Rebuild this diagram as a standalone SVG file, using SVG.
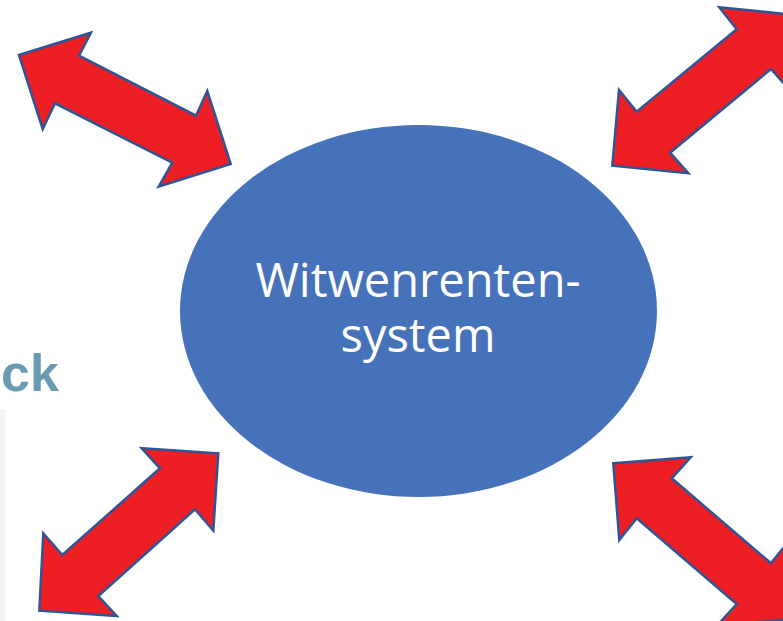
<svg xmlns="http://www.w3.org/2000/svg" width="783" height="621" viewBox="0 0 783 621">
<style>
.arrow{fill:#ED1F24;stroke:#2F5597;stroke-width:2.5;stroke-linejoin:miter}
.label{font-family:"Open Sans","Noto Sans",sans-serif;font-size:47px;fill:#FFFFFF;text-anchor:middle}
.ck{font-family:"Liberation Sans",Arial,sans-serif;font-weight:bold;font-size:52px;fill:#6A9BB0}
</style>
<rect x="0" y="0" width="783" height="621" fill="#FFFFFF"/>
<defs>
<linearGradient id="strip" x1="0" y1="0" x2="1" y2="0">
<stop offset="0" stop-color="#F2F2F2"/>
<stop offset="1" stop-color="#F7F7F7"/>
</linearGradient>
</defs>
<rect x="0" y="409" width="6" height="212" fill="url(#strip)"/>
<text class="ck" x="1" y="391">ck</text>
<g id="connectors">
<polygon id="arrow-tl" class="arrow" points="19,55 91,32.7 79,55.7 196,115.7 207.3,91 230.7,164 158.7,186.7 172.3,162.7 55,103.3 42.7,129"/>
<polygon id="arrow-tr" class="arrow" points="612.3,165.7 619,90 636.7,111.7 736.7,29.3 719.3,7.3 795.4,15 789.3,89.6 771,69 670,152.7 688.3,173.3"/>
<polygon id="arrow-bl" class="arrow" points="39.3,610.7 43.3,533.3 62.3,555 160,468.3 141.7,448.3 218.3,453.3 213.3,530.7 195,509.3 98.3,596 116.7,616"/>
<polygon id="arrow-br" class="arrow" points="613.3,463.3 690.7,457.3 671.7,478.3 771,563.3 788.4,541.6 795.1,619 717.7,625 736.7,604 636.7,518.3 619.3,540"/>
</g>
<g id="node-witwenrentensystem">
<ellipse cx="418.5" cy="311" rx="238.5" ry="186" fill="#4672BA"/>
<text class="label"><tspan x="418" y="297">Witwenrenten-</tspan><tspan x="418" y="352">system</tspan></text>
</g>
</svg>
